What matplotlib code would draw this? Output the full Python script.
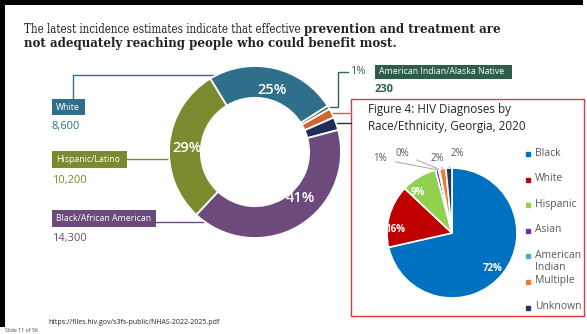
import matplotlib
matplotlib.use('Agg')
import matplotlib.pyplot as plt
from matplotlib.patches import Rectangle
import numpy as np

# national estimates of new HIV infections (NHAS 2022-2025)
nhas_groups = ['White', 'American Indian/Alaska Native', 'Multiracial', 'Asian',
               'Black/African American', 'Hispanic/Latino']
nhas_counts = [8600, 230, 620, 850, 14300, 10200]
nhas_colors = ['#2f6f8c', '#2e6a50', '#d2642e', '#1f2b5c', '#6d4a7c', '#7b8a2f']

# Georgia 2020 HIV diagnoses, percent
ga_groups = ['Black', 'White', 'Hispanic', 'Asian', 'American\nIndian', 'Multiple', 'Unknown']
ga_pct = [71.6, 15.6, 8.9, 0.8, 0.2, 1.6, 1.5]
ga_colors = ['#0070c0', '#c00000', '#92d050', '#7030a0', '#4bacc6', '#ed7d31', '#1f3864']

W, H = 587, 334
fig = plt.figure(figsize=(W / 100, H / 100), dpi=100)
fig.patch.set_facecolor('white')

# overlay axes in pixel units, y down
ax0 = fig.add_axes([0, 0, 1, 1])
ax0.set_xlim(0, W)
ax0.set_ylim(H, 0)
ax0.axis('off')

# slide frame
ax0.add_patch(Rectangle((0, 0), 583, 5, color='black', lw=0))
ax0.add_patch(Rectangle((0, 0), 5, 327, color='black', lw=0))

# heading, normal + bold runs
serif = 'DejaVu Serif'
t1 = ax0.text(24, 33, 'The latest incidence estimates indicate that effective ',
              family=serif, size=8.3, stretch='condensed', color='#222222', va='baseline')
ax0.annotate('prevention and treatment are', xy=(1, 0), xycoords=t1,
             va='bottom', ha='left', family=serif, size=8.6, weight='bold', color='#222222')
ax0.text(24, 47, 'not adequately reaching people who could benefit most.',
         family=serif, size=8.6, weight='bold', color='#222222', va='baseline')

# donut chart
cx, cy, r = 255, 152, 86
ax_d = fig.add_axes([(cx - r) / W, 1 - (cy + r) / H, 2 * r / W, 2 * r / H])
total = sum(nhas_counts)
wedges, _ = ax_d.pie(nhas_counts, colors=nhas_colors, startangle=121.4, counterclock=False,
                     radius=1, wedgeprops=dict(width=0.37, edgecolor='white', linewidth=1.3))
ax_d.set_xlim(-1, 1)
ax_d.set_ylim(-1, 1)
ax_d.axis('off')
pct_pos = {0: (0.2, 0.72), 4: (0.53, -0.54), 5: (-0.79, 0.05)}
for i, (px, py) in pct_pos.items():
    ax_d.text(px, py, '{:.0f}%'.format(100 * nhas_counts[i] / total), color='white',
              fontsize=10.5, weight='semibold', family='Open Sans', ha='center', va='center')

# donut labels
sans = 'Open Sans'
def tag(x0, y0, w, h, txt, color, value, vy):
    ax0.add_patch(Rectangle((x0, y0), w, h, color=color, lw=0))
    ax0.text(x0 + 4, y0 + h / 2, txt, color='white', fontsize=6.3, family=sans, va='center')
    if value is not None:
        ax0.text(x0, vy, value, color=color, fontsize=8, family=sans, va='center')

ax0.plot([214, 73, 73], [75, 75, 99], color=nhas_colors[0], lw=1)
tag(52, 99, 33, 16, nhas_groups[0], nhas_colors[0], '{:,}'.format(nhas_counts[0]), 126)
ax0.plot([127, 169], [159, 159], color=nhas_colors[5], lw=1)
tag(52, 151, 75, 17, nhas_groups[5], nhas_colors[5], '{:,}'.format(nhas_counts[5]), 180)
ax0.plot([156, 205], [222, 222], color=nhas_colors[4], lw=1)
tag(52, 210, 104, 17, nhas_groups[4], nhas_colors[4], '{:,}'.format(nhas_counts[4]), 239)

ax0.plot([330, 338, 338, 348], [107, 107, 72, 72], color=nhas_colors[1], lw=1)
ax0.text(350, 72, '{:.0f}%'.format(100 * nhas_counts[1] / total), color=nhas_colors[1],
         fontsize=8, family=sans, va='center')
tag(375, 65, 137, 14, nhas_groups[1], '#2e5e4a', None, 0)
ax0.text(375, 89, '{:,}'.format(nhas_counts[1]), color='#2e5e4a', fontsize=8,
         family=sans, weight='bold', va='center')
ax0.plot([332, 351], [113, 113], color=nhas_colors[2], lw=1)
ax0.plot([336, 351], [123, 123], color=nhas_colors[3], lw=1)

# inset figure box
ax0.add_patch(Rectangle((351, 99), 233, 217, facecolor='white', edgecolor='#e03a3a', lw=1))
ax0.text(368, 103, 'Figure 4: HIV Diagnoses by\nRace/Ethnicity, Georgia, 2020',
         fontsize=8.4, family=sans, color='#262626', va='top', linespacing=1.4)

# legend
for i, (g, c) in enumerate(zip(ga_groups, ga_colors)):
    ly = 154 + i * 25.6
    ax0.plot(528, ly, marker='s', ms=3.5, color=c, mec=c)
    ax0.text(535, ly - 6.5, g, fontsize=7.5, family=sans, color='#595959', va='top',
             linespacing=1.1)

# Georgia pie
px0, py0, pr = 452, 233, 65
ax_p = fig.add_axes([(px0 - pr) / W, 1 - (py0 + pr) / H, 2 * pr / W, 2 * pr / H])
pw, _ = ax_p.pie(ga_pct, colors=ga_colors, startangle=90, counterclock=False, radius=1,
                 wedgeprops=dict(edgecolor='white', linewidth=1.2))
ax_p.set_xlim(-1, 1)
ax_p.set_ylim(-1, 1)
ax_p.axis('off')

inside = {0: (0.62, -0.55), 1: (-0.87, 0.06), 2: (-0.52, 0.62)}
outside = {3: (-1.11, 1.14), 4: (-0.77, 1.22), 5: (-0.22, 1.14), 6: (0.08, 1.22)}
for i, w in enumerate(pw):
    lab = '{:.0f}%'.format(ga_pct[i])
    if i in inside:
        ax_p.text(*inside[i], lab, color='white', fontsize=7, weight='bold', family=sans,
                  ha='center', va='center')
    else:
        ang = np.deg2rad((w.theta1 + w.theta2) / 2)
        tx, ty = outside[i]
        ax_p.annotate(lab, xy=(np.cos(ang), np.sin(ang)), xytext=(tx, ty),
                      fontsize=7, family=sans, color='#595959', ha='center', va='center',
                      annotation_clip=False,
                      arrowprops=dict(arrowstyle='-', color='#a6a6a6', lw=0.7,
                                      shrinkA=4, shrinkB=0))

# footer
ax0.text(48, 322, 'https://files.hiv.gov/s3fs-public/NHAS-2022-2025.pdf', fontsize=5,
         family=sans, color='#222222', va='center')
ax0.text(5, 331, 'Slide 11 of 56', fontsize=3.8, family=sans, color='#444444', va='center')

fig.savefig('out.png', dpi=100)
